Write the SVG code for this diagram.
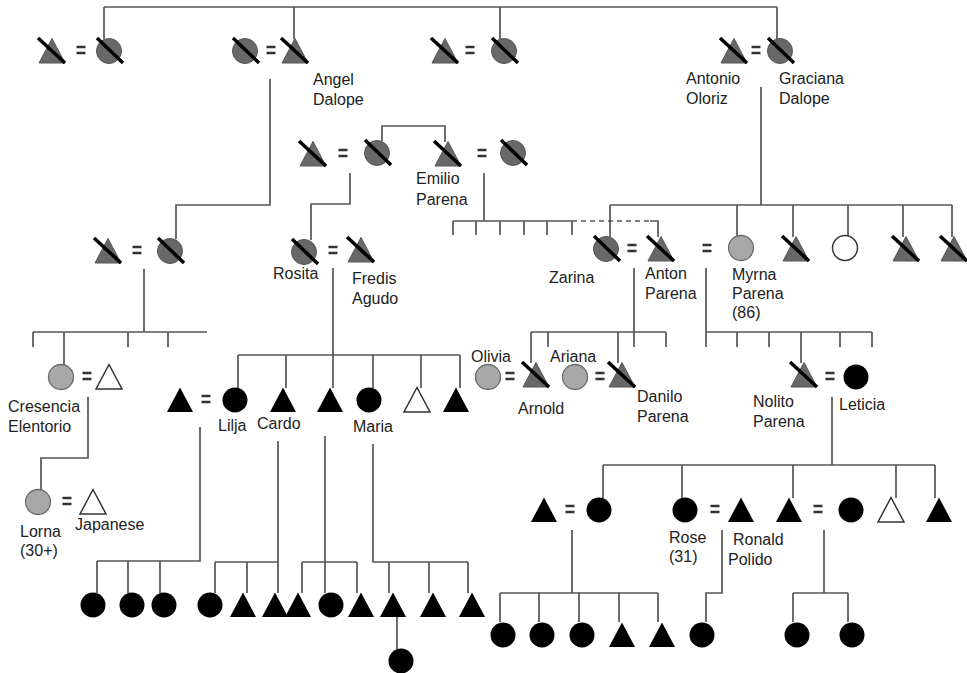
<svg xmlns="http://www.w3.org/2000/svg" xmlns:xlink="http://www.w3.org/1999/xlink" width="967" height="673" viewBox="0 0 967 673">
<style>
.ln{fill:none;stroke:#555;stroke-width:1.7}
.dash{fill:none;stroke:#555;stroke-width:1.7;stroke-dasharray:5,4}
text{font-family:"Liberation Sans",Arial,sans-serif;font-size:16px;fill:#222}
</style>
<defs>
<path id="triP" d="M0,-12.5 L13,12 L-13,12 Z"/>
<g id="tB"><use href="#triP" fill="#000"/></g>
<g id="tW"><use href="#triP" fill="#fff" stroke="#333" stroke-width="1.5"/></g>
<g id="tD"><use href="#triP" fill="#686868" stroke="#555" stroke-width="1"/><path d="M-14,-13 L13,12" stroke="#000" stroke-width="3.5"/></g>
<g id="cB"><circle r="12.5" fill="#000"/></g>
<g id="cW"><circle r="12.5" fill="#fff" stroke="#333" stroke-width="1.5"/></g>
<g id="cG"><circle r="12.5" fill="#a8a8a8" stroke="#6a6a6a" stroke-width="1.3"/></g>
<g id="cD"><circle r="12.5" fill="#686868" stroke="#555" stroke-width="1"/><path d="M-12,-13 L14,12" stroke="#000" stroke-width="3.5"/></g>
<g id="eq"><path d="M-4.5,-3 H4.5 M-4.5,3 H4.5" stroke="#333" stroke-width="2.4"/></g>
</defs>

<g id="connectors">
<path class="ln" d="M104,7 H777 M104,7 V39 M294,7 V39 M500,7 V39 M777,7 V39"/>
<path class="ln" d="M270,79 V205 H176 V239"/>
<path class="ln" d="M350,173 V204 H311 V240"/>
<path class="ln" d="M382,141 V126 H445 V142"/>
<path class="ln" d="M484,173 V221 M453,221 H572 M453,221 V235 M476,221 V235 M500,221 V235 M524,221 V235 M547,221 V235 M572,221 V235"/>
<path class="dash" d="M572,221 H650"/>
<path class="ln" d="M650,221 H658 V237"/>
<path class="ln" d="M761,87 V205 M610,205 H952 M610,205 V237 M737,205 V236 M793,205 V237 M848,205 V236 M903,205 V237 M952,205 V237"/>
<path class="ln" d="M144,269 V332 M33,332 H207 M33,332 V347 M64,332 V365 M128,332 V347 M168,332 V347"/>
<path class="ln" d="M88,397 V458 H41 V490"/>
<path class="ln" d="M333,268 V388 M238,355 H460 M238,355 V388 M286,355 V388 M373,355 V388 M421,355 V388 M460,355 V388"/>
<path class="ln" d="M634,268 V347 M531,332 H666 M531,332 V363 M548,332 V347 M618,332 V363 M666,332 V347"/>
<path class="ln" d="M706,268 V347 M706,332 H872 M737,332 V347 M769,332 V347 M801,332 V363 M840,332 V347 M872,332 V347"/>
<path class="ln" d="M832,397 V465 M603,465 H935 M603,465 V498 M682,465 V498 M793,465 V498 M896,465 V498 M935,465 V498"/>
<path class="ln" d="M200,427 V561 H97 M97,561 V593 M128,561 V593 M160,561 V593"/>
<path class="ln" d="M278,441 V593 M215,562 H278 M215,562 V593 M247,562 V593"/>
<path class="ln" d="M325,436 V593 M302,562 H357 M302,562 V593 M357,562 V593"/>
<path class="ln" d="M373,444 V562 H468 M389,562 V593 M429,562 V593 M468,562 V593"/>
<path class="ln" d="M397,617 V649"/>
<path class="ln" d="M572,530 V593 M500,593 H658 M500,593 V622 M539,593 V622 M579,593 V622 M619,593 V622 M658,593 V622"/>
<path class="ln" d="M722,530 V593 H706 V622"/>
<path class="ln" d="M824,530 V593 M793,593 H848 M793,593 V622 M848,593 V622"/>
</g>

<!-- Row 1 -->
<g id="p1"><use href="#tD" x="52" y="51"/></g>
<g id="m1"><use href="#eq" x="81" y="50"/></g>
<g id="p2"><use href="#cD" x="109" y="51"/></g>
<g id="p3"><use href="#cD" x="245" y="51"/></g>
<g id="m2"><use href="#eq" x="271" y="50"/></g>
<g id="p4"><use href="#tD" x="295" y="51"/><text x="313" y="85">Angel</text><text x="313" y="105">Dalope</text></g>
<g id="p5"><use href="#tD" x="445" y="51"/></g>
<g id="m3"><use href="#eq" x="470" y="50"/></g>
<g id="p6"><use href="#cD" x="504" y="51"/></g>
<g id="p7"><use href="#tD" x="734" y="51"/><text x="686" y="84">Antonio</text><text x="686" y="104">Oloriz</text></g>
<g id="m4"><use href="#eq" x="756" y="50"/></g>
<g id="p8"><use href="#cD" x="780" y="51"/><text x="779" y="84">Graciana</text><text x="779" y="104">Dalope</text></g>

<!-- Row 2 -->
<g id="p9"><use href="#tD" x="313" y="154"/></g>
<g id="m5"><use href="#eq" x="343" y="153"/></g>
<g id="p10"><use href="#cD" x="377" y="153"/></g>
<g id="p11"><use href="#tD" x="448" y="154"/><text x="416" y="184">Emilio</text><text x="416" y="205">Parena</text></g>
<g id="m6"><use href="#eq" x="482" y="153"/></g>
<g id="p12"><use href="#cD" x="513" y="153"/></g>

<!-- Row 3 -->
<g id="p13"><use href="#tD" x="108" y="251"/></g>
<g id="m7"><use href="#eq" x="137" y="250"/></g>
<g id="p14"><use href="#cD" x="170" y="251"/></g>
<g id="p15"><use href="#cD" x="304" y="252"/><text x="273" y="279">Rosita</text></g>
<g id="m8"><use href="#eq" x="333" y="250"/></g>
<g id="p16"><use href="#tD" x="361" y="250"/><text x="352" y="284">Fredis</text><text x="352" y="304">Agudo</text></g>
<g id="p17"><use href="#cD" x="606" y="249"/><text x="549" y="283">Zarina</text></g>
<g id="m9"><use href="#eq" x="632" y="248"/></g>
<g id="p18"><use href="#tD" x="661" y="249"/><text x="645" y="279">Anton</text><text x="645" y="299">Parena</text></g>
<g id="m10"><use href="#eq" x="707" y="248"/></g>
<g id="p19"><use href="#cG" x="741" y="248"/><text x="732" y="280">Myrna</text><text x="732" y="299">Parena</text><text x="732" y="318">(86)</text></g>
<g id="p20"><use href="#tD" x="796" y="249"/></g>
<g id="p21"><use href="#cW" x="845" y="248"/></g>
<g id="p22"><use href="#tD" x="906" y="249"/></g>
<g id="p23"><use href="#tD" x="954" y="249"/></g>

<!-- Row 4 -->
<g id="p24"><use href="#cG" x="61" y="377"/><text x="8" y="412">Cresencia</text><text x="8" y="432">Elentorio</text></g>
<g id="m11"><use href="#eq" x="87" y="376"/></g>
<g id="p25"><use href="#tW" x="109" y="377"/></g>
<g id="p26"><use href="#cG" x="488" y="377"/><text x="471" y="362">Olivia</text></g>
<g id="m12"><use href="#eq" x="510" y="376"/></g>
<g id="p27"><use href="#tD" x="536" y="375"/><text x="518" y="414">Arnold</text></g>
<g id="p28"><use href="#cG" x="575" y="377"/><text x="550" y="362">Ariana</text></g>
<g id="m13"><use href="#eq" x="600" y="376"/></g>
<g id="p29"><use href="#tD" x="622" y="375"/><text x="637" y="402">Danilo</text><text x="637" y="422">Parena</text></g>
<g id="p30"><use href="#tD" x="804" y="375"/><text x="753" y="407">Nolito</text><text x="753" y="427">Parena</text></g>
<g id="m14"><use href="#eq" x="830" y="376"/></g>
<g id="p31"><use href="#cB" x="856" y="377"/><text x="839" y="410">Leticia</text></g>

<g id="p32"><use href="#tB" x="180" y="400"/></g>
<g id="m15"><use href="#eq" x="206" y="399"/></g>
<g id="p33"><use href="#cB" x="235" y="400"/><text x="218" y="431">Lilja</text></g>
<g id="p34"><use href="#tB" x="283" y="400"/><text x="257" y="429">Cardo</text></g>
<g id="p35"><use href="#tB" x="330" y="400"/></g>
<g id="p36"><use href="#cB" x="369" y="400"/><text x="353" y="432">Maria</text></g>
<g id="p37"><use href="#tW" x="417" y="400"/></g>
<g id="p38"><use href="#tB" x="456" y="400"/></g>

<!-- Row 5 -->
<g id="p39"><use href="#cG" x="38" y="502"/><text x="20" y="537">Lorna</text><text x="20" y="556">(30+)</text></g>
<g id="m16"><use href="#eq" x="67" y="501"/></g>
<g id="p40"><use href="#tW" x="93" y="502"/><text x="75" y="530">Japanese</text></g>
<g id="p41"><use href="#tB" x="544" y="510"/></g>
<g id="m17"><use href="#eq" x="570" y="509"/></g>
<g id="p42"><use href="#cB" x="599" y="510"/></g>
<g id="p43"><use href="#cB" x="685" y="510"/><text x="669" y="543">Rose</text><text x="669" y="562">(31)</text></g>
<g id="m18"><use href="#eq" x="715" y="509"/></g>
<g id="p44"><use href="#tB" x="741" y="510"/><text x="733" y="545">Ronald</text><text x="728" y="565">Polido</text></g>
<g id="p45"><use href="#tB" x="789" y="510"/></g>
<g id="m19"><use href="#eq" x="818" y="509"/></g>
<g id="p46"><use href="#cB" x="851" y="510"/></g>
<g id="p47"><use href="#tW" x="891" y="510"/></g>
<g id="p48"><use href="#tB" x="939" y="510"/></g>

<!-- Row 6 -->
<g id="p49"><use href="#cB" x="93" y="605"/></g>
<g id="p50"><use href="#cB" x="132" y="605"/></g>
<g id="p51"><use href="#cB" x="164" y="605"/></g>
<g id="p52"><use href="#cB" x="210" y="605"/></g>
<g id="p53"><use href="#tB" x="243" y="605"/></g>
<g id="p54"><use href="#tB" x="275" y="605"/></g>
<g id="p55"><use href="#tB" x="298" y="605"/></g>
<g id="p56"><use href="#cB" x="331" y="605"/></g>
<g id="p57"><use href="#tB" x="361" y="605"/></g>
<g id="p58"><use href="#tB" x="393" y="605"/></g>
<g id="p59"><use href="#tB" x="433" y="605"/></g>
<g id="p60"><use href="#tB" x="472" y="605"/></g>
<g id="p61"><use href="#cB" x="401" y="661"/></g>

<g id="p62"><use href="#cB" x="503" y="635"/></g>
<g id="p63"><use href="#cB" x="542" y="635"/></g>
<g id="p64"><use href="#cB" x="582" y="635"/></g>
<g id="p65"><use href="#tB" x="622" y="635"/></g>
<g id="p66"><use href="#tB" x="662" y="635"/></g>
<g id="p67"><use href="#cB" x="702" y="635"/></g>
<g id="p68"><use href="#cB" x="797" y="635"/></g>
<g id="p69"><use href="#cB" x="852" y="635"/></g>
</svg>
